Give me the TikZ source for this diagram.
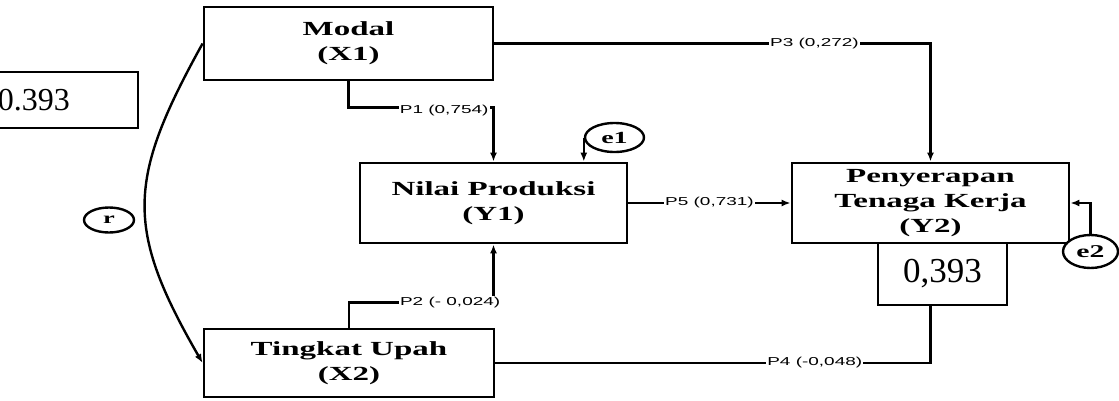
\documentclass[tikz,border=0pt]{standalone}
\usepackage{fontspec}
\setmainfont{Liberation Serif}
\newfontfamily\wideserif[FakeStretch=1.65]{Liberation Serif}
\newfontfamily\widesans[FakeStretch=1.65]{Liberation Sans}
\usetikzlibrary{arrows.meta,shapes.geometric}

\begin{document}
\begin{tikzpicture}[x=1pt, y=1pt,
    every node/.style = {align=center, inner sep=0pt},
    var/.style = {draw, line width=2.8pt, font=\wideserif\bfseries\fontsize{20}{25}\selectfont},
    err/.style = {draw, ellipse, fill=white, line width=2.4pt, font=\wideserif\bfseries\fontsize{17}{20}\selectfont},
    coef/.style = {fill=white, inner sep=1pt, font=\widesans\fontsize{11.5}{13}\selectfont},
    val/.style = {draw, line width=1.6pt, font=\fontsize{35}{40}\selectfont},
    link/.style = {line width=2.4pt},
    >={Latex[length=9pt,width=7pt]}]
\useasboundingbox (0,0) rectangle (1119,400);

% variabel
\node[var, minimum width=289pt, minimum height=73pt] (modal) at (348.5,356.5) {Modal\\(X1)};
\node[var, minimum width=267pt, minimum height=80pt] (nilai) at (493.5,197) {Nilai Produksi\\(Y1)};
\node[var, minimum width=290pt, minimum height=68pt] (upah) at (349,37) {Tingkat Upah\\(X2)};
\node[var, minimum width=277pt, minimum height=80pt] (serap) at (930.5,197) {Penyerapan\\Tenaga Kerja\\(Y2)};

% nilai r square
\node[val, minimum height=56pt, text width=132pt, inner xsep=8pt, align=left, font=\fontsize{32}{36}\selectfont] (rkiri) at (64,300) {0.393};
\node[val, minimum width=129pt, minimum height=62pt] (rkanan) at (942.5,126) {0,393};

% error
\node[err, minimum width=50pt, minimum height=25pt, font=\wideserif\bfseries\fontsize{16}{18}\selectfont] (r) at (109,180) {r};
\node[err, minimum width=59pt, minimum height=29pt] (e1) at (614.5,262.5) {e1};
\node[err, minimum width=55pt, minimum height=33pt, font=\wideserif\bfseries\fontsize{18}{20}\selectfont] (e2) at (1090.5,148.5) {e2};

% jalur
\draw[link,->] (modal.south) -- ++(0,-26) -| node[coef, pos=0.33, yshift=-3pt] {P1 (0,754)} (nilai.north);
\draw[link,->] (upah.north) -- ++(0,25) -| node[coef, pos=0.35] {P2 (- 0,024)} (nilai.south);
\draw[link,->] (modal.east) -| node[coef, pos=0.367] {P3 (0,272)} (serap.north);
\draw[link] (upah.east) -| node[coef, pos=0.367] {P4 (-0,048)} (serap.north |- rkanan.south);
\draw[link,->] (nilai.east) -- node[coef] {P5 (0,731)} (serap.west);
\draw[link,->] (modal.west) to[out=241, in=120, looseness=1.25] (upah.west);
\draw[link,->] (e1.west) -- (e1.west |- nilai.north);
\draw[link,->] (e2.north) |- (serap.east);
\end{tikzpicture}
\end{document}
